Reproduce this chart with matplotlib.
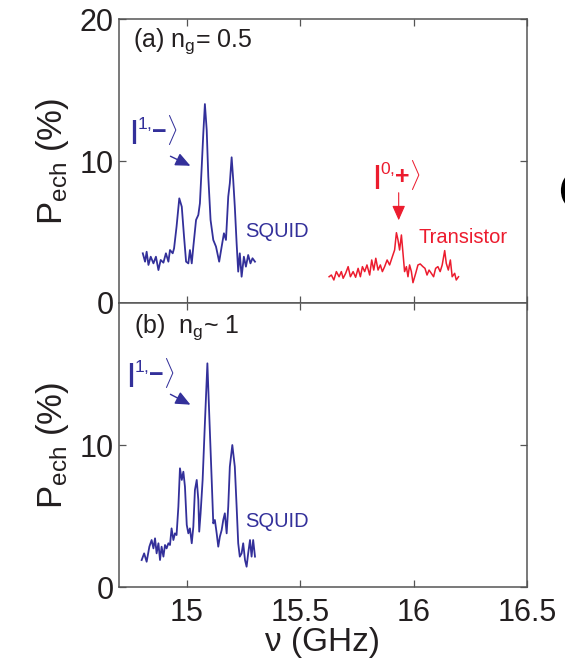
import matplotlib
matplotlib.use('Agg')
import matplotlib.pyplot as plt
from matplotlib.patches import Arc

plt.rcParams['font.family'] = ['Liberation Sans', 'DejaVu Sans']
plt.rcParams['mathtext.fontset'] = 'custom'
plt.rcParams['mathtext.rm'] = 'Liberation Sans'
plt.rcParams['mathtext.it'] = 'Liberation Sans:italic'
plt.rcParams['mathtext.bf'] = 'Liberation Sans:bold'

# (a) n_g = 0.5, SQUID resonance
freq_a_squid = [14.805, 14.815, 14.822, 14.830, 14.840, 14.852, 14.863, 14.874, 14.884, 14.896,
                14.907, 14.918, 14.925, 14.937, 14.943, 14.954, 14.966, 14.977, 14.987, 14.996,
                15.006, 15.013, 15.021, 15.028, 15.040, 15.050, 15.057, 15.065, 15.072, 15.079,
                15.087, 15.094, 15.104, 15.116, 15.128, 15.142, 15.153, 15.163, 15.172, 15.182,
                15.189, 15.197, 15.204, 15.211, 15.219, 15.226, 15.233, 15.241, 15.251, 15.260,
                15.270, 15.280, 15.289, 15.300]
p_a_squid = [3.50, 2.91, 3.61, 2.68, 3.26, 2.79, 3.26, 2.32, 3.03, 2.84,
             3.50, 2.91, 3.73, 3.50, 3.85, 5.38, 7.37, 6.78, 4.67, 2.91,
             2.79, 3.73, 2.79, 3.97, 5.85, 6.20, 7.02, 9.60, 11.95, 14.01,
             12.18, 8.90, 5.85, 4.44, 3.97, 2.91, 3.97, 4.91, 4.44, 7.49,
             8.43, 10.26, 8.66, 6.78, 4.20, 2.21, 3.50, 1.85, 3.26, 2.56,
             3.38, 2.79, 3.15, 2.91]

# (a) n_g = 0.5, transistor resonance
freq_a_trans = [15.627, 15.637, 15.648, 15.659, 15.671, 15.681, 15.689, 15.700, 15.711, 15.721,
                15.733, 15.744, 15.755, 15.765, 15.774, 15.784, 15.794, 15.806, 15.815, 15.824,
                15.833, 15.843, 15.853, 15.862, 15.872, 15.883, 15.894, 15.906, 15.916, 15.924,
                15.931, 15.938, 15.946, 15.953, 15.960, 15.968, 15.975, 15.982, 15.990, 15.997,
                16.009, 16.019, 16.029, 16.041, 16.050, 16.059, 16.068, 16.078, 16.088, 16.097,
                16.107, 16.117, 16.126, 16.137, 16.144, 16.153, 16.162, 16.170, 16.181, 16.188,
                16.198]
p_a_trans = [1.85, 1.97, 1.62, 2.21, 1.85, 2.21, 1.74, 2.09, 2.56, 1.85,
             2.21, 1.81, 2.44, 1.85, 2.56, 2.21, 2.68, 1.97, 3.03, 2.32,
             3.15, 2.32, 2.68, 2.21, 2.56, 3.03, 2.68, 3.26, 3.73, 4.95,
             4.44, 3.73, 4.79, 3.50, 2.21, 2.56, 1.85, 2.68, 2.21, 1.43,
             2.09, 2.68, 2.75, 2.56, 2.44, 1.97, 2.32, 2.09, 1.85, 2.44,
             2.56, 2.21, 2.68, 3.69, 2.79, 2.32, 3.03, 1.85, 2.09, 1.62,
             1.85]

# (b) n_g ~ 1, SQUID resonance
freq_b_squid = [14.800, 14.811, 14.822, 14.834, 14.844, 14.852, 14.859, 14.866, 14.874, 14.881,
                14.888, 14.896, 14.903, 14.910, 14.918, 14.925, 14.932, 14.940, 14.947, 14.954,
                14.962, 14.969, 14.977, 14.984, 14.991, 14.999, 15.006, 15.013, 15.021, 15.028,
                15.035, 15.043, 15.050, 15.054, 15.060, 15.069, 15.079, 15.090, 15.098, 15.109,
                15.116, 15.123, 15.131, 15.138, 15.145, 15.153, 15.160, 15.167, 15.175, 15.182,
                15.189, 15.200, 15.211, 15.219, 15.226, 15.233, 15.241, 15.248, 15.256, 15.263,
                15.270, 15.278, 15.285, 15.292, 15.300]
p_b_squid = [1.90, 2.37, 1.78, 2.84, 3.31, 2.72, 3.43, 2.37, 3.08, 1.90,
             2.84, 2.14, 2.96, 2.72, 3.08, 2.96, 4.13, 3.31, 3.78, 3.66,
             5.66, 8.36, 7.54, 8.12, 7.07, 4.37, 3.78, 4.13, 3.08, 4.25,
             6.83, 7.54, 6.13, 3.90, 5.19, 7.54, 11.53, 15.75, 12.23, 7.54,
             4.48, 4.72, 3.78, 2.84, 3.54, 4.01, 4.72, 5.19, 3.78, 5.66,
             8.47, 10.00, 8.47, 5.66, 3.08, 2.14, 2.37, 3.08, 1.90, 1.43,
             2.37, 3.31, 2.14, 3.31, 2.14]

x_ticks = [15, 15.5, 16, 16.5]
x_tick_labels = ['15', '15.5', '16', '16.5']

blue = '#33309a'
red = '#ec1c2e'
dark = '#231f20'
spine_col = '#555555'

fig = plt.figure(figsize=(5.65, 6.63), dpi=100)
ax_a = fig.add_axes([0.2106, 0.543, 0.7221, 0.4283])
ax_b = fig.add_axes([0.2106, 0.1146, 0.7221, 0.4284], sharex=ax_a)

ax_a.plot(freq_a_squid, p_a_squid, color=blue, lw=1.3)
ax_a.plot(freq_a_trans, p_a_trans, color=red, lw=1.1)
ax_b.plot(freq_b_squid, p_b_squid, color=blue, lw=1.3)

for ax in (ax_a, ax_b):
    ax.set_xlim(14.7, 16.5)
    ax.set_ylim(0, 20)
    ax.tick_params(direction='in', length=5, width=0.9, color=spine_col,
                   top=True, right=True, labelsize=22, labelcolor=dark, pad=4)
    for s in ax.spines.values():
        s.set_color(spine_col)
        s.set_linewidth(1.1)
    ax.set_ylabel(r'$\mathregular{P_{ech}}$ (%)', fontsize=25, color=dark, labelpad=6)

ax_a.set_yticks([0, 10, 20])
ax_b.set_yticks([0, 10])
ax_b.set_xticks(x_ticks)
ax_b.set_xticklabels(x_tick_labels)
ax_a.tick_params(labelbottom=False)
ax_b.tick_params(axis='x', pad=8)
ax_b.set_xlabel('ν (GHz)', fontsize=24, color=dark, labelpad=-1)

# panel labels
ax_a.text(0.034, 0.901, r'(a) n$_\mathregular{g}$= 0.5', transform=ax_a.transAxes,
          fontsize=18, color=dark, va='baseline')
ax_b.text(0.038, 0.894, r'(b)  n$_\mathregular{g}$~ 1', transform=ax_b.transAxes,
          fontsize=18, color=dark, va='baseline')

ket_blue = r'$\mathbf{|}^{1,}\!\mathbf{-}\rangle$'
ket_red = r'$\mathbf{|}^{0,}\!\mathbf{+}\rangle$'
arrow_style = '-|>,head_length=0.9,head_width=0.4'

# (a) annotations
ax_a.text(14.749, 12.18, ket_blue, color=blue, fontsize=18, va='center')
ax_a.annotate('', xy=(15.026, 9.58), xytext=(14.916, 10.42),
              arrowprops=dict(arrowstyle=arrow_style, color=blue, lw=1.0))
ax_a.text(15.256, 5.07, 'SQUID', color=blue, fontsize=14.5, va='center')
ax_a.text(15.819, 9.01, ket_red, color=red, fontsize=18, va='center')
ax_a.annotate('', xy=(15.934, 5.63), xytext=(15.934, 7.96),
              arrowprops=dict(arrowstyle=arrow_style, color=red, lw=0.8))
ax_a.text(16.022, 4.58, 'Transistor', color=red, fontsize=14.5, va='center')

# (b) annotations
ax_b.text(14.736, 15.07, ket_blue, color=blue, fontsize=18, va='center')
ax_b.annotate('', xy=(15.026, 12.75), xytext=(14.916, 13.66),
              arrowprops=dict(arrowstyle=arrow_style, color=blue, lw=1.0))
ax_b.text(15.256, 4.58, 'SQUID', color=blue, fontsize=14.5, va='center')

# clipped bracket from the neighbouring figure at the right edge
fig.add_artist(Arc((578 / 565, 1 - 190.5 / 663), 30 / 565, 36 / 663,
                   theta1=130, theta2=230, transform=fig.transFigure,
                   color='black', lw=3))

fig.savefig('out.png', dpi=100)
